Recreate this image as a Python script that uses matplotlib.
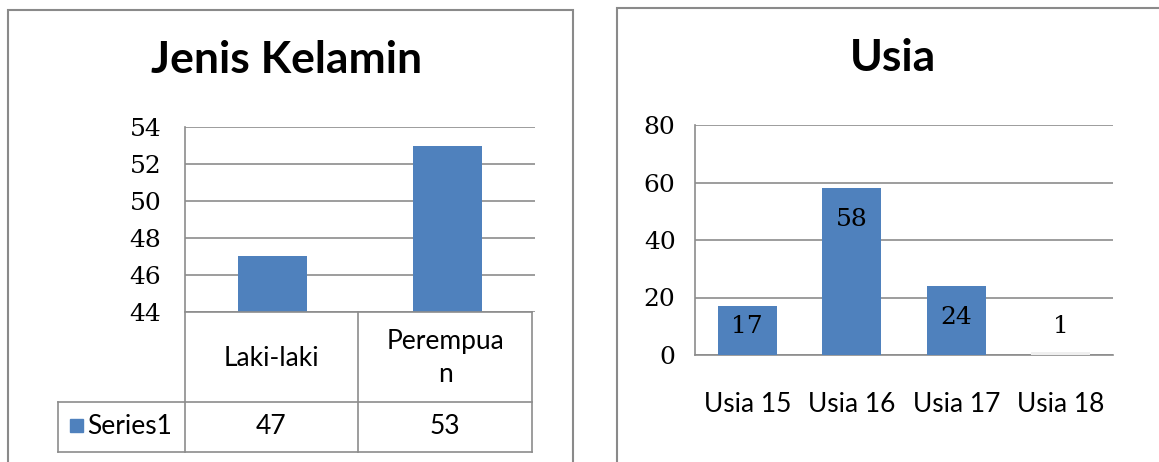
import matplotlib.pyplot as plt
from matplotlib.patches import Rectangle
from matplotlib.lines import Line2D

W, H = 1159, 462

gender_title = "Jenis Kelamin"
gender_cats = ["Laki-laki", "Perempua\nn"]  # wrapped as in the original table
gender_vals = [47, 53]
gender_ticks = [44, 46, 48, 50, 52, 54]
series_name = "Series1"

age_title = "Usia"
age_cats = ["Usia 15", "Usia 16", "Usia 17", "Usia 18"]
age_vals = [17, 58, 24, 1]
age_ticks = [0, 20, 40, 60, 80]

BLUE = "#4F81BD"
GRID = "#8C8C8C"
SANS = "Lato"
SERIF = "DejaVu Serif"


def box(x0, y0, x1, y1):
    # pixel box (top-left origin) -> figure fraction rect
    return [x0 / W, 1 - y1 / H, (x1 - x0) / W, (y1 - y0) / H]


def fline(x0, y0, x1, y1, color=GRID, lw=1.2):
    fig.add_artist(Line2D([x0 / W, x1 / W], [1 - y0 / H, 1 - y1 / H],
                          transform=fig.transFigure, color=color, lw=lw))


def ftext(x, y, s, **kw):
    fig.text(x / W, 1 - y / H, s, **kw)


fig = plt.figure(figsize=(W / 100, H / 100), dpi=100)
fig.patch.set_facecolor("white")

# chart frames
for x0, y0, x1, y1 in [(8, 10, 573, 480), (617, 8, 1175, 480)]:
    fig.add_artist(Rectangle((x0 / W, 1 - y1 / H), (x1 - x0) / W, (y1 - y0) / H,
                             transform=fig.transFigure, fill=False,
                             edgecolor="#8a8a8a", lw=1.5))

# ---- left chart: Jenis Kelamin ----
ax1 = fig.add_axes(box(185, 127, 535, 312))
ax1.bar(range(len(gender_vals)), gender_vals, width=0.39, color=BLUE, zorder=3)
ax1.set_xlim(-0.5, len(gender_cats) - 0.5)
ax1.set_ylim(gender_ticks[0], gender_ticks[-1])
ax1.set_yticks(gender_ticks)
ax1.set_xticks([])
ax1.yaxis.grid(True, color=GRID, lw=1.2, zorder=0)
ax1.set_axisbelow(True)
for s in ax1.spines.values():
    s.set_visible(False)
ax1.tick_params(axis="y", length=0, pad=17)
for lab in ax1.get_yticklabels():
    lab.set_fontfamily(SERIF)
    lab.set_fontsize(18)
ftext(287, 60, gender_title, ha="center", va="center", fontfamily=SANS,
      fontweight="bold", fontsize=32)

# data table
cols = [185, 358, 532]
fline(185, 127, 185, 452)
fline(185, 312, 532, 312)
fline(58, 402, 532, 402)
fline(58, 452, 532, 452)
fline(58, 402, 58, 452)
fline(358, 312, 358, 452)
fline(532, 312, 532, 452)
for i, cat in enumerate(gender_cats):
    cx = (cols[i] + cols[i + 1]) / 2
    ftext(cx, 358, cat, ha="center", va="center", fontfamily=SANS,
          fontsize=19, linespacing=1.45)
    ftext(cx, 427, str(gender_vals[i]), ha="center", va="center",
          fontfamily=SANS, fontsize=19)
fig.add_artist(Rectangle((70 / W, 1 - 432 / H), 13 / W, 13 / H,
                         transform=fig.transFigure, color=BLUE))
ftext(87, 427, series_name, ha="left", va="center", fontfamily=SANS, fontsize=19)

# ---- right chart: Usia ----
ax2 = fig.add_axes(box(695, 125, 1113, 355))
x = range(len(age_vals))
# the value-1 bar is practically invisible in the original
bar_colors = [BLUE if v > 1 else "#efefef" for v in age_vals]
ax2.bar(x, age_vals, width=0.56, color=bar_colors, zorder=3)
ax2.set_xlim(-0.5, len(age_cats) - 0.5)
ax2.set_ylim(age_ticks[0], age_ticks[-1])
ax2.set_yticks(age_ticks)
ax2.set_xticks(list(x))
ax2.set_xticklabels(age_cats, fontfamily=SANS, fontsize=19)
ax2.yaxis.grid(True, color=GRID, lw=1.2, zorder=0)
ax2.set_axisbelow(True)
for k, s in ax2.spines.items():
    s.set_visible(k in ("left", "bottom"))
    s.set_color(GRID)
    s.set_linewidth(1.2)
ax2.tick_params(axis="y", length=0, pad=14)
ax2.tick_params(axis="x", length=0, pad=27)
for lab in ax2.get_yticklabels():
    lab.set_fontfamily(SERIF)
    lab.set_fontsize(18)
for i, v in enumerate(age_vals):
    ax2.text(i, max(v - 11, 10), str(v), ha="center", va="center",
             fontfamily=SERIF, fontsize=18, zorder=4)
ftext(893, 58, age_title, ha="center", va="center", fontfamily=SANS,
      fontweight="bold", fontsize=32)

fig.savefig("out.png", dpi=100)
